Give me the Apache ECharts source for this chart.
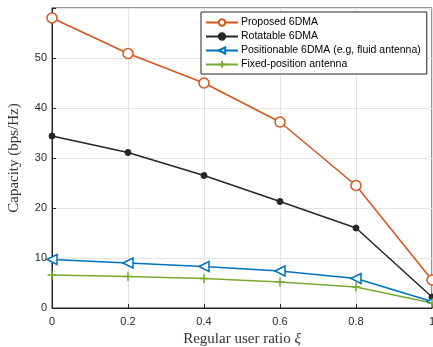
<!DOCTYPE html>
<html><head><meta charset="utf-8">
<script src="https://cdn.jsdelivr.net/npm/echarts@6/dist/echarts.min.js"></script>
<style>html,body{margin:0;padding:0;background:#fff}#c{width:433px;height:347px}</style>
</head><body><div id="c"></div>
<script>
const xValues = [0, 0.2, 0.4, 0.6, 0.8, 1];
const proposed = [58.0, 50.9, 45.0, 37.2, 24.5, 5.6];
const rotatable = [34.4, 31.1, 26.5, 21.3, 16.0, 2.2];
const positionable = [9.7, 9.0, 8.3, 7.4, 5.9, 1.3];
const fixedPos = [6.6, 6.3, 5.9, 5.2, 4.2, 1.0];
const seriesNames = ['Proposed 6DMA', 'Rotatable 6DMA', 'Positionable 6DMA (e.g, fluid antenna)', 'Fixed-position antenna'];

const pairs = ys => xValues.map((x, i) => [x, ys[i]]);
const plusPath = 'path://M-1,0L1,0M0,-1L0,1';

const chart = echarts.init(document.getElementById('c'), null, {renderer: 'canvas'});
const tickColor = '#262626';
chart.setOption({
  animation: false,
  backgroundColor: '#fff',
  grid: {left: 52, right: 1, top: 8, bottom: 39, show: true, borderColor: tickColor, borderWidth: 1,
    backgroundColor: 'transparent', containLabel: false, outerBoundsMode: 'none'},
  legend: {
    orient: 'vertical', left: 201, top: 12, width: 231,
    backgroundColor: '#fff', borderColor: tickColor, borderWidth: 1,
    padding: [5, 6, 4, 4], itemGap: 3, itemWidth: 32, itemHeight: 8,
    textStyle: {fontFamily: 'Liberation Sans', fontSize: 10.5, color: '#000', padding: [0, 0, 0, -2], lineHeight: 11},
    data: seriesNames
  },
  xAxis: {
    type: 'value', min: 0, max: 1, interval: 0.2,
    name: 'Regular user ratio {i|ξ}', nameLocation: 'middle', nameGap: 22,
    nameTextStyle: {fontFamily: 'Liberation Serif', fontSize: 15, color: '#333',
      rich: {i: {fontFamily: 'Liberation Serif', fontStyle: 'italic', fontSize: 15, color: '#333'}}},
    axisLine: {show: true, lineStyle: {color: tickColor, width: 1}},
    axisTick: {show: true, inside: true, length: 4, lineStyle: {color: tickColor}},
    axisLabel: {fontFamily: 'Liberation Sans', fontSize: 11, color: tickColor, margin: 8,
      formatter: v => String(Math.round(v * 10) / 10)},
    splitLine: {show: true, lineStyle: {color: '#e3e3e3', width: 1}}
  },
  yAxis: {
    type: 'value', min: 0, max: 60, interval: 10,
    name: 'Capacity (bps/Hz)', nameLocation: 'middle', nameGap: 30,
    nameTextStyle: {fontFamily: 'Liberation Serif', fontSize: 15, color: '#333'},
    axisLine: {show: true, lineStyle: {color: tickColor, width: 1}},
    axisTick: {show: true, inside: true, length: 4, lineStyle: {color: tickColor}},
    axisLabel: {fontFamily: 'Liberation Sans', fontSize: 11, color: tickColor, margin: 5,
      formatter: v => v === 60 ? '' : String(v)},
    splitLine: {show: true, lineStyle: {color: '#e3e3e3', width: 1}}
  },
  series: [
    {name: seriesNames[0], type: 'line', data: pairs(proposed),
     lineStyle: {width: 1.5, color: '#D95319'}, symbol: 'circle', symbolSize: 10,
     itemStyle: {color: '#fff', borderColor: '#D95319', borderWidth: 1.5}},
    {name: seriesNames[1], type: 'line', data: pairs(rotatable),
     lineStyle: {width: 1.5, color: '#262626'}, symbol: 'circle', symbolSize: 6,
     itemStyle: {color: '#262626', borderColor: '#262626', borderWidth: 1}},
    {name: seriesNames[2], type: 'line', data: pairs(positionable),
     lineStyle: {width: 1.5, color: '#0072BD'}, symbol: 'triangle', symbolSize: 10, symbolRotate: 90,
     itemStyle: {color: '#fff', borderColor: '#0072BD', borderWidth: 1.5}},
    {name: seriesNames[3], type: 'line', data: pairs(fixedPos),
     lineStyle: {width: 1.5, color: '#77AC30'}, symbol: plusPath, symbolSize: 9,
     itemStyle: {color: '#77AC30', borderColor: '#77AC30', borderWidth: 1.5}}
  ]
});
</script></body></html>
